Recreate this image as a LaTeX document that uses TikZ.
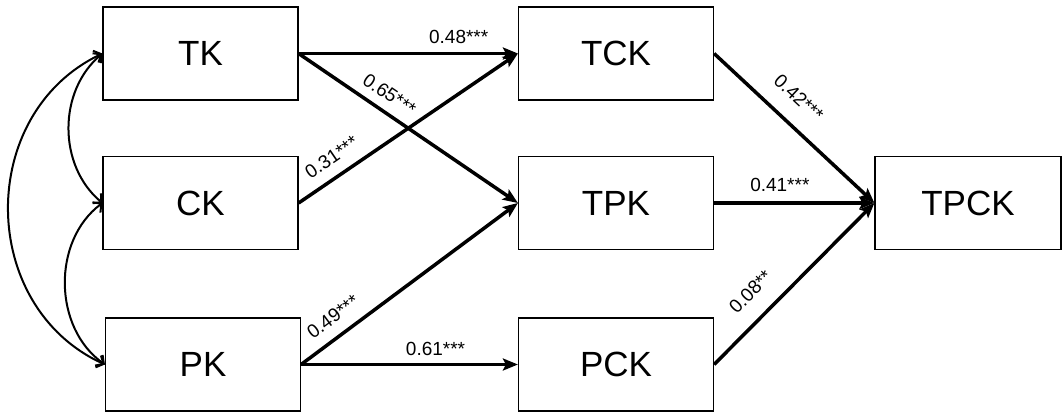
\documentclass[tikz,border=0pt]{standalone}
\usepackage{fontspec}
\setmainfont{Liberation Sans}
\usetikzlibrary{arrows.meta}
\begin{document}
\begin{tikzpicture}[x=1pt,y=1pt,
  box/.style={draw, line width=1.2pt, minimum width=195pt, minimum height=93pt, inner sep=0pt, font=\fontsize{35}{40}\selectfont},
  path/.style={line width=3.5pt, -{Stealth[length=15pt,width=12pt,inset=3pt]}},
  cov/.style={line width=2pt, {Straight Barb[length=6pt,width=13pt]}-{Straight Barb[length=6pt,width=13pt]}},
  lab/.style={font=\fontsize{19}{22}\selectfont, inner sep=1pt, sloped}]
\useasboundingbox (0,0) rectangle (1064,-415);
\node[box] (tk)  at (200.5,-53.5) {TK};
\node[box] (ck)  at (200.5,-203) {CK};
\node[box] (pk)  at (203,-364.5) {PK};
\node[box] (tck) at (616,-53.5) {TCK};
\node[box] (tpk) at (616,-203) {TPK};
\node[box] (pck) at (616,-364.5) {PCK};
\node[box, minimum width=186pt] (tpck) at (968,-203) {TPCK};

\draw[path] (tk.east) -- node[lab, pos=0.73, above=7pt] {0.48***} (tck.west);
\draw[path] (tk.east) -- node[lab, pos=0.37, above=8pt] {0.65***} (tpk.west);
\draw[path] (ck.east) -- node[lab, pos=0.2, above=10pt] {0.31***} (tck.west);
\draw[path] (pk.east) -- node[lab, pos=0.2, above=10pt] {0.49***} (tpk.west);
\draw[path] (pk.east) -- node[lab, pos=0.62, above=6pt] {0.61***} (pck.west);
\draw[path] (tck.east) -- node[lab, pos=0.42, above=16pt] {0.42***} (tpck.west);
\draw[path] (tpk.east) -- node[lab, pos=0.41, above=9pt] {0.41***} (tpck.west);
\draw[path] (pck.east) -- node[lab, pos=0.34, above=16pt] {0.08**} (tpck.west);

\draw[cov] (ck.west) to[bend left=50] (tk.west);
\draw[cov] (pk.west) to[bend left=54] (ck.west);
\draw[cov] (pk.west) to[bend left=65, looseness=1.15] (tk.west);
\end{tikzpicture}
\end{document}
